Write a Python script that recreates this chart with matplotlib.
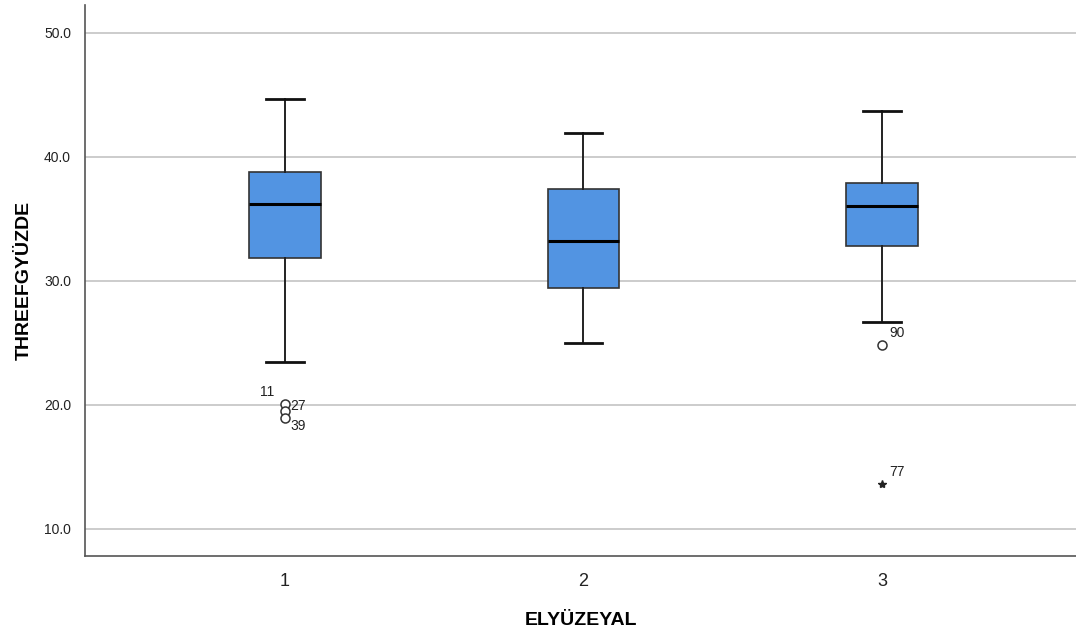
import matplotlib
matplotlib.use("Agg")
import matplotlib.pyplot as plt

plt.rcParams["font.family"] = ["Liberation Sans", "DejaVu Sans"]

groups = [1, 2, 3]
whislo = [23.45, 25.0, 26.7]
q1 = [31.85, 29.4, 32.8]
med = [36.2, 33.2, 36.05]
q3 = [38.8, 37.4, 37.9]
whishi = [44.7, 41.9, 43.7]

# outliers: (group, value, case label, kind)
out_group = [1, 1, 1, 3, 3]
out_value = [20.05, 19.5, 18.95, 24.8, 13.6]
out_label = ["11", "27", "39", "90", "77"]
out_kind = ["o", "o", "o", "o", "*"]
# label offsets in points
out_dx = [-18, 4, 4, 5, 5]
out_dy = [9, 4, -6, 9, 9]

fig = plt.figure(figsize=(10.76, 6.35), dpi=100)
ax = fig.add_axes([0.079, 0.1244, 0.921, 0.868])

stats = []
for i in range(len(groups)):
    stats.append(dict(whislo=whislo[i], q1=q1[i], med=med[i], q3=q3[i],
                      whishi=whishi[i], fliers=[]))

ax.bxp(stats, positions=groups, widths=0.24, patch_artist=True, showfliers=False,
       boxprops=dict(facecolor="#5294E2", edgecolor="#333333", linewidth=1.2),
       medianprops=dict(color="black", linewidth=2.2),
       whiskerprops=dict(color="#222222", linewidth=1.4),
       capprops=dict(color="#111111", linewidth=2.0),
       capwidths=0.125, zorder=3)

for g, v, lab, k, dx, dy in zip(out_group, out_value, out_label, out_kind, out_dx, out_dy):
    if k == "o":
        ax.plot(g, v, marker="o", ms=6.5, mfc="white", mec="#333333", mew=1.1, zorder=4)
    else:
        ax.plot(g, v, marker="*", ms=6, color="#222222", zorder=4)
    ax.annotate(lab, (g, v), xytext=(dx, dy), textcoords="offset points",
                fontsize=10, color="#222222", va="center", ha="left")

ax.set_xlim(0.33, 3.65)
ax.set_ylim(7.82, 52.26)
ax.set_yticks([10, 20, 30, 40, 50])
ax.set_yticklabels(["10.0", "20.0", "30.0", "40.0", "50.0"], fontsize=10)
ax.set_xticks(groups)
ax.set_xticklabels([str(g) for g in groups], fontsize=13)
ax.grid(axis="y", color="#C8C8C8", linewidth=1.3, zorder=0)
ax.set_axisbelow(True)

for s in ["top", "right"]:
    ax.spines[s].set_visible(False)
for s in ["left", "bottom"]:
    ax.spines[s].set_color("#555555")
    ax.spines[s].set_linewidth(1.2)
ax.tick_params(axis="both", length=0, colors="#222222")
ax.tick_params(axis="y", pad=10)
ax.tick_params(axis="x", pad=12)

ax.set_xlabel("ELYÜZEYAL", fontsize=14, fontweight="bold", labelpad=16)
ax.set_ylabel("THREEFGYÜZDE", fontsize=14, fontweight="bold", labelpad=8)

fig.savefig("out.png", dpi=100)
